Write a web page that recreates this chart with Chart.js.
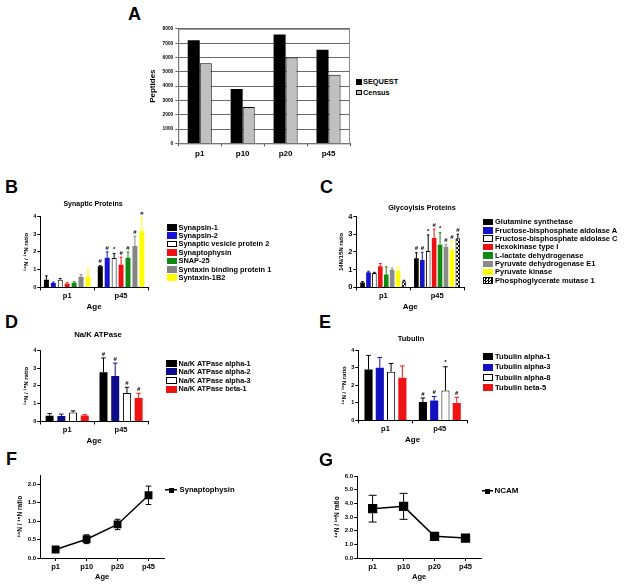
<!DOCTYPE html>
<html><head><meta charset="utf-8">
<script src="https://cdn.jsdelivr.net/npm/chart.js@4.4.0/dist/chart.umd.min.js"></script>
<style>
html,body{margin:0;padding:0;background:#fff;}
body{width:624px;height:585px;position:relative;overflow:hidden;font-family:"Liberation Sans",Arial,sans-serif;font-weight:bold;color:#000;-webkit-font-smoothing:antialiased;}
.abs{position:absolute;}
.abs canvas{display:block;}
.letter{position:absolute;font-size:18px;font-weight:bold;line-height:18px;}
.title{position:absolute;white-space:nowrap;text-align:center;width:200px;}
.row{position:absolute;display:flex;align-items:center;white-space:nowrap;height:10px;}
.row span{line-height:1;}
.box{box-sizing:border-box;flex:none;}
</style></head><body>
<script>
// ---------------- DATA ----------------
// Panel A
const agesA = ['p1', 'p10', 'p20', 'p45'];
const sequestPeptides = [7200, 3800, 7600, 6550];
const censusPeptides = [5600, 2550, 6000, 4800];
const seriesA = ['SEQUEST', 'Census'];

// Bar panels B-E: groups
const ageGroups = ['p1', 'p45'];

// Panel B
const synLabels = ['Synapsin-1', 'Synapsin-2', 'Synaptic vesicle protein 2', 'Synaptophysin', 'SNAP-25', 'Syntaxin binding protein 1', 'Syntaxin-1B2'];
const synP1 = [0.43, 0.25, 0.43, 0.21, 0.26, 0.60, 0.63];
const synP1Err = [0.22, 0.05, 0.07, 0.05, 0.06, 0.12, 0.40];
const synP45 = [1.19, 1.67, 1.66, 1.27, 1.67, 2.33, 3.18];
const synP45Err = [0.03, 0.33, 0.24, 0.43, 0.32, 0.55, 0.74];
const synMarks = ['#', '#', '*', '#', '#', '#', '#'];

// Panel C
const glyLabels = ['Glutamine synthetase', 'Fructose-bisphosphate aldolase A', 'Fructose-bisphosphate aldolase C', 'Hexokinase type I', 'L-lactate dehydrogenase', 'Pyruvate dehydrogenase E1', 'Pyruvate kinase', 'Phosphoglycerate mutase 1'];
const glyP1 = [0.27, 0.85, 0.81, 1.20, 0.73, 1.00, 0.96, 0.35];
const glyP1Err = [0.06, 0.06, 0.04, 0.15, 0.43, 0.09, 0.19, 0.05];
const glyP45 = [1.64, 1.54, 2.05, 2.79, 2.41, 2.29, 2.14, 2.77];
const glyP45Err = [0.32, 0.44, 0.91, 0.50, 0.68, 0.12, 0.48, 0.23];
const glyMarks = ['#', '#', '*', '#', '*', '#', '#', '#'];

// Panel D
const nakLabels = ['Na/K ATPase alpha-1', 'Na/K ATPase alpha-2', 'Na/K ATPase alpha-3', 'Na/K ATPase beta-1'];
const nakP1 = [0.32, 0.30, 0.50, 0.33];
const nakP1Err = [0.12, 0.11, 0.09, 0.05];
const nakP45 = [2.77, 2.55, 1.60, 1.32];
const nakP45Err = [0.80, 0.73, 0.32, 0.26];
const nakMarks = ['#', '#', '#', '#'];

// Panel E
const tubLabels = ['Tubulin alpha-1', 'Tubulin alpha-3', 'Tubulin alpha-8', 'Tubulin beta-5'];
const tubP1 = [2.90, 3.00, 2.77, 2.44];
const tubP1Err = [0.81, 0.59, 0.48, 0.67];
const tubP45 = [1.05, 1.13, 1.70, 1.00];
const tubP45Err = [0.23, 0.23, 1.36, 0.32];
const tubMarks = ['#', '#', '*', '#'];

// Panels F, G
const agesLine = ['p1', 'p10', 'p20', 'p45'];
const sypValues = [0.23, 0.51, 0.91, 1.70];
const sypErr = [0.04, 0.12, 0.14, 0.25];
const ncamValues = [3.61, 3.78, 1.59, 1.46];
const ncamErr = [0.98, 0.95, 0.20, 0.23];

// axis tick settings
const ratioTicksBar = {min: 0, max: 4, step: 1};
const ratioTicksF = {min: 0, max: 2.25, step: 0.5, top: 2.0};
const ratioTicksG = {min: 0, max: 6, step: 1};
const peptideTicks = {min: 0, max: 8000, step: 1000};

// ---------------- STYLE ----------------
const FONT = "'Liberation Sans', Arial, Helvetica, sans-serif";
Chart.defaults.font.family = FONT;
Chart.defaults.font.weight = 'bold';
Chart.defaults.color = '#000';
Chart.defaults.animation = false;
Chart.defaults.plugins.legend.display = false;
Chart.defaults.plugins.tooltip.enabled = false;

function checker() {
  const c = document.createElement('canvas'); c.width = 4; c.height = 4;
  const x = c.getContext('2d'); x.fillStyle = '#fff'; x.fillRect(0, 0, 4, 4);
  x.fillStyle = '#000'; x.fillRect(0, 0, 2, 2); x.fillRect(2, 2, 2, 2);
  return x.createPattern(c, 'repeat');
}
const CHECK_CSS = 'repeating-conic-gradient(#000 0 25%, #fff 0 50%) 0 0/3px 3px';

const colB = ['#000000', '#1414d2', '#ffffff', '#ee1111', '#118811', '#858585', '#ffff00'];
const colC = ['#000000', '#1414c8', '#ffffff', '#ee1111', '#128a12', '#8a8a8a', '#ffff00', 'CHECK'];
const colD = ['#000000', '#0c0c8c', '#ffffff', '#ee1414'];
const colE = ['#000000', '#1212c0', '#ffffff', '#ee1414'];

// ---------------- PLUGINS ----------------
const errorBars = {
  id: 'errorBars',
  afterDatasetsDraw(chart) {
    const ctx = chart.ctx;
    chart.data.datasets.forEach((ds, di) => {
      if (!ds.errors) return;
      const meta = chart.getDatasetMeta(di);
      const ys = chart.scales[meta.yAxisID];
      meta.data.forEach((el, i) => {
        const v = ds.data[i], e = ds.errors[i];
        if (v == null || e == null) return;
        const x = el.x;
        const yTop = ys.getPixelForValue(v + e);
        const yBot = ds.twoSided ? ys.getPixelForValue(v - e) : ys.getPixelForValue(v);
        const cap = ds.capHalf != null ? ds.capHalf : (el.width ? el.width * 0.28 : 3);
        ctx.save();
        ctx.strokeStyle = ds.errorColor || '#000';
        ctx.lineWidth = 1;
        ctx.beginPath();
        ctx.moveTo(x, yBot); ctx.lineTo(x, yTop);
        ctx.moveTo(x - cap, yTop); ctx.lineTo(x + cap, yTop);
        if (ds.twoSided) { ctx.moveTo(x - cap, yBot); ctx.lineTo(x + cap, yBot); }
        ctx.stroke();
        if (ds.marks && ds.marks[i]) {
          ctx.fillStyle = '#000';
          ctx.font = 'bold 6px ' + FONT;
          ctx.textAlign = 'center';
          ctx.textBaseline = 'bottom';
          ctx.fillText(ds.marks[i], x, yTop - 1);
        }
        ctx.restore();
      });
    });
  }
};
const frame = {
  id: 'frame',
  beforeDatasetsDraw(chart, args, opts) {
    if (!opts || !opts.color) return;
    const a = chart.chartArea, ctx = chart.ctx;
    ctx.save(); ctx.strokeStyle = opts.color; ctx.lineWidth = 1;
    ctx.strokeRect(a.left + 0.5, a.top + 0.5, a.right - a.left - 1, a.bottom - a.top);
    ctx.restore();
  }
};
Chart.register(errorBars, frame);

// ---------------- HELPERS ----------------
function mount(cfgFn, area) {
  const w = area.r - area.l, h = area.b - area.t;
  const wrap = document.createElement('div'); wrap.className = 'abs';
  document.body.appendChild(wrap);
  function make(cw, ch) {
    const cv = document.createElement('canvas');
    cv.width = cw; cv.height = ch; cv.style.width = cw + 'px'; cv.style.height = ch + 'px';
    wrap.appendChild(cv);
    return [cv, new Chart(cv, cfgFn())];
  }
  let cw = w + 80, ch = h + 50;
  let [cv, chart] = make(cw, ch);
  let ca = chart.chartArea;
  const nw = Math.round(cw + w - (ca.right - ca.left));
  const nh = Math.round(ch + h - (ca.bottom - ca.top));
  chart.destroy(); wrap.removeChild(cv);
  [cv, chart] = make(nw, nh);
  ca = chart.chartArea;
  wrap.style.left = Math.round(area.l - ca.left) + 'px';
  wrap.style.top = Math.round(area.t - ca.top) + 'px';
  return chart;
}
function letter(t, x, capTop) {
  const d = document.createElement('div'); d.className = 'letter'; d.textContent = t;
  d.style.left = x + 'px'; d.style.top = (capTop - 2.4) + 'px';
  document.body.appendChild(d);
}
function title(t, cx, cy, size) {
  const d = document.createElement('div'); d.className = 'title'; d.textContent = t;
  d.style.left = (cx - 100) + 'px'; d.style.top = (cy - size * 0.6) + 'px';
  d.style.fontSize = size + 'px'; d.style.lineHeight = (size * 1.2) + 'px';
  document.body.appendChild(d);
}
function legendBoxes(labels, colors, left, y0, dy, size, bw, bh, gap) {
  labels.forEach((lab, i) => {
    const r = document.createElement('div'); r.className = 'row';
    r.style.left = left + 'px'; r.style.top = (y0 + i * dy - 5) + 'px'; r.style.fontSize = size + 'px';
    const b = document.createElement('span'); b.className = 'box';
    b.style.width = bw + 'px'; b.style.height = bh + 'px'; b.style.marginRight = gap + 'px';
    const c = colors[i];
    if (c === 'CHECK') { b.style.background = CHECK_CSS; b.style.border = '1px solid #000'; }
    else { b.style.background = c; if (c === '#ffffff' || c === '#c0c0c0') b.style.border = '1px solid #000'; }
    const t = document.createElement('span'); t.textContent = lab;
    r.appendChild(b); r.appendChild(t);
    document.body.appendChild(r);
  });
}
function legendLine(label, left, y, size, lw, sq, gap) {
  const r = document.createElement('div'); r.className = 'row';
  r.style.left = left + 'px'; r.style.top = (y - 5) + 'px'; r.style.fontSize = size + 'px';
  const m = document.createElement('span'); m.className = 'box';
  m.style.width = lw + 'px'; m.style.height = sq + 'px'; m.style.marginRight = gap + 'px';
  m.style.background = `linear-gradient(#000,#000) center/${lw}px 1.5px no-repeat, linear-gradient(#000,#000) center/${sq}px ${sq}px no-repeat`;
  const t = document.createElement('span'); t.textContent = label;
  r.appendChild(m); r.appendChild(t);
  document.body.appendChild(r);
}

function barAxes(tickSize, yTitle, yTitleSize) {
  return {
    x: {
      type: 'category', offset: true,
      grid: {display: true, drawOnChartArea: false, drawTicks: true, tickLength: 3, color: '#000', offset: true},
      border: {display: true, color: '#000', width: 1},
      ticks: {font: {size: 7.5, weight: 'bold'}, padding: 1, color: '#000', maxRotation: 0},
      title: {display: true, text: 'Age', font: {size: 8, weight: 'bold'}, padding: {top: 1, bottom: 0}, color: '#000'}
    },
    y: {
      min: ratioTicksBar.min, max: ratioTicksBar.max,
      ticks: {stepSize: ratioTicksBar.step, font: {size: tickSize, weight: 'bold'}, padding: 1, color: '#000'},
      grid: {display: true, drawOnChartArea: false, drawTicks: true, tickLength: 3, color: '#000'},
      border: {display: true, color: '#000', width: 1},
      title: {display: true, text: yTitle, font: {size: yTitleSize, weight: 'bold'}, padding: {top: 0, bottom: 2}, color: '#000'}
    }
  };
}
function barConfig(labels, colors, p1, p1e, p45, p45e, marks, catPct, barPct, tickSize, yTitle, yTitleSize) {
  const pat = checker();
  return () => ({
    type: 'bar',
    data: {
      labels: ageGroups,
      datasets: labels.map((lab, i) => {
        const c = colors[i];
        const fill = c === 'CHECK' ? pat : c;
        const bord = (c === '#ffffff' || c === 'CHECK') ? '#000' : c;
        return {
          label: lab, data: [p1[i], p45[i]], errors: [p1e[i], p45e[i]], marks: ['', marks[i]],
          backgroundColor: fill, borderColor: bord, borderWidth: (c === '#ffffff' || c === 'CHECK') ? 1 : 0,
          errorColor: bord, categoryPercentage: catPct, barPercentage: barPct
        };
      })
    },
    options: {responsive: false, maintainAspectRatio: false, layout: {padding: 2}, scales: barAxes(tickSize, yTitle, yTitleSize)}
  });
}
function lineConfig(label, values, errs, yt, capHalf, pr) {
  return () => ({
    type: 'line',
    data: {
      labels: agesLine,
      datasets: [{
        label: label, data: values, errors: errs, twoSided: true, capHalf: capHalf, errorColor: '#000',
        borderColor: '#000', borderWidth: 1.5, pointStyle: 'rect', pointRadius: pr,
        pointBackgroundColor: '#000', pointBorderColor: '#000', tension: 0, fill: false
      }]
    },
    options: {
      responsive: false, maintainAspectRatio: false, layout: {padding: 2},
      scales: {
        x: {
          type: 'category', offset: true,
          grid: {display: true, drawOnChartArea: false, drawTicks: true, tickLength: 3, color: '#000', offset: false},
          border: {display: true, color: '#000', width: 1},
          ticks: {font: {size: 7.5, weight: 'bold'}, padding: 1, color: '#000', maxRotation: 0},
          title: {display: true, text: 'Age', font: {size: 7.5, weight: 'bold'}, padding: {top: 0, bottom: 0}, color: '#000'}
        },
        y: {
          min: yt.min, max: yt.max,
          afterBuildTicks: (s) => { if (yt.top != null) s.ticks = s.ticks.filter(t => t.value <= yt.top + 1e-9); },
          ticks: {stepSize: yt.step, font: {size: 6, weight: 'bold'}, padding: 1, color: '#000', callback: (v) => Number(v).toFixed(1)},
          grid: {display: true, drawOnChartArea: false, drawTicks: true, tickLength: 3, color: '#000'},
          border: {display: true, color: '#000', width: 1},
          title: {display: true, text: '¹⁴N / ¹⁵N ratio', font: {size: 6.5, weight: 'bold'}, padding: {top: 0, bottom: 3}, color: '#000'}
        }
      }
    }
  });
}

// ---------------- PANEL A ----------------
mount(() => ({
  type: 'bar',
  data: {
    labels: agesA,
    datasets: [
      {label: seriesA[0], data: sequestPeptides, backgroundColor: '#000', borderColor: '#000', borderWidth: 0, categoryPercentage: 0.56, barPercentage: 1.0},
      {label: seriesA[1], data: censusPeptides, backgroundColor: '#c0c0c0', borderColor: '#000', borderWidth: 1, categoryPercentage: 0.56, barPercentage: 1.0}
    ]
  },
  options: {
    responsive: false, maintainAspectRatio: false, layout: {padding: 2},
    plugins: {frame: {color: '#8c8c8c'}},
    scales: {
      x: {
        grid: {display: true, drawOnChartArea: false, drawTicks: true, tickLength: 3, color: '#555', offset: true},
        border: {display: true, color: '#555'},
        ticks: {font: {size: 8, weight: 'bold'}, padding: 3, color: '#000', maxRotation: 0}
      },
      y: {
        min: peptideTicks.min, max: peptideTicks.max,
        ticks: {stepSize: peptideTicks.step, font: {size: 4.8, weight: 'bold'}, padding: 2, color: '#000', callback: (v) => String(v)},
        grid: {display: true, drawOnChartArea: true, drawTicks: true, tickLength: 3, color: '#6a6a6a'},
        border: {display: true, color: '#555'},
        title: {display: true, text: 'Peptides', font: {size: 8, weight: 'bold'}, padding: {top: 0, bottom: 3}, color: '#000'}
      }
    }
  }
}), {l: 178, t: 29, r: 350, b: 144});
letter('A', 128, 7);
legendBoxes(seriesA, ['#000000', '#c0c0c0'], 356, 82, 10.5, 7.4, 5.5, 5.5, 1.5);

// ---------------- PANEL B ----------------
mount(barConfig(synLabels, colB, synP1, synP1Err, synP45, synP45Err, synMarks, 0.9, 0.72, 5.5, '¹⁴N / ¹⁵N ratio', 6),
  {l: 40, t: 216, r: 148, b: 287});
letter('B', 5, 180);
title('Synaptic Proteins', 93, 204, 7);
legendBoxes(synLabels, colB, 167, 227.3, 8.4, 7.4, 10, 6.5, 1.5);

// ---------------- PANEL C ----------------
mount(barConfig(glyLabels, colC, glyP1, glyP1Err, glyP45, glyP45Err, glyMarks, 0.88, 0.78, 7.5, '14N/15N ratio', 6),
  {l: 356, t: 216, r: 464, b: 286.5});
letter('C', 320, 180);
title('Glycoylsis Proteins', 422, 208, 7.3);
legendBoxes(glyLabels, colC, 483, 222, 8.35, 7.5, 10, 6.5, 2);

// ---------------- PANEL D ----------------
mount(barConfig(nakLabels, colD, nakP1, nakP1Err, nakP45, nakP45Err, nakMarks, 0.87, 0.68, 5.5, '¹⁴N / ¹⁵N ratio', 6),
  {l: 40, t: 350, r: 148, b: 420.5});
letter('D', 5, 315);
title('Na/K ATPase', 98, 335, 7.8);
legendBoxes(nakLabels, colD, 166, 363.3, 8.6, 7.3, 11, 7, 1.5);

// ---------------- PANEL E ----------------
mount(barConfig(tubLabels, colE, tubP1, tubP1Err, tubP45, tubP45Err, tubMarks, 0.83, 0.72, 5.5, '¹⁴N / ¹⁵N ratio', 6),
  {l: 358, t: 350, r: 467, b: 420});
letter('E', 319, 315);
title('Tubulin', 411, 338, 7.5);
legendBoxes(tubLabels, colE, 483, 356.7, 10.3, 7.6, 10, 7, 2);

// ---------------- PANEL F ----------------
mount(lineConfig('Synaptophysin', sypValues, sypErr, ratioTicksF, 2.8, 4.5),
  {l: 40, t: 475.1, r: 164, b: 557.7});
letter('F', 6, 452);
legendLine('Synaptophysin', 165, 490, 7.7, 12, 5, 2.5);

// ---------------- PANEL G ----------------
mount(lineConfig('NCAM', ncamValues, ncamErr, ratioTicksG, 4, 5.5),
  {l: 357, t: 475.7, r: 481, b: 557.7});
letter('G', 319, 453);
legendLine('NCAM', 482, 491, 8, 11, 5, 1.5);
</script>
</body></html>
